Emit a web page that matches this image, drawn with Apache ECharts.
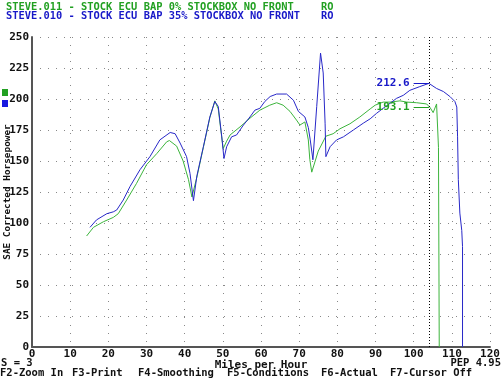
<!DOCTYPE html>
<html>
<head>
<meta charset="utf-8" />
<title>Dyno run</title>
<script src="https://cdn.jsdelivr.net/npm/echarts@6/dist/echarts.min.js"></script>
<style type="text/css">
html, body { margin: 0; padding: 0; background: #fff; }
#echarts { width: 504px; height: 378px; }
</style>
</head>
<body>
<div id="echarts"></div>
<script type="text/javascript">

// run 011 (green) - speed in mph / SAE corrected horsepower
var greenMph = [14.3, 16.1, 18.7, 21.3, 22.6, 24.8, 27.4, 30.0, 32.7, 35.3, 36.0, 37.9, 39.6, 41.0, 41.9,
    43.2, 44.9, 46.6, 47.9, 48.8, 49.6, 50.1, 51.0, 51.9, 54.5, 57.1, 59.7, 62.3, 64.1, 65.8, 67.6,
    69.3, 70.2, 71.5, 72.4, 72.8, 73.3, 75.0, 77.0, 78.9, 80.7, 83.3, 85.9, 88.6, 89.9, 92.0, 93.8,
    96.4, 98.2, 100.8, 103.4, 104.3, 105.1, 106.0, 106.5, 106.7];
var greenHp = [89.5, 96.5, 101, 104.5, 107.5, 118.5, 132, 147, 156, 165.5, 166.5, 162, 150, 135, 121,
    137, 161, 185, 198.5, 192, 172, 160, 166, 171, 177.5, 184.5, 191, 195, 197, 195, 190,
    183, 179, 181.5, 167, 151, 141, 158, 170, 172, 176, 180, 185.5, 192, 195, 197.5, 197.5,
    198.5, 197.5, 197, 196, 193.1, 189, 196, 161, 0];

// run 010 (blue)
var blueMph = [15.2, 16.9, 19.6, 21.3, 22.2, 23.9, 25.7, 28.3, 30.9, 33.5, 36.2, 37.5, 38.8, 40.5, 41.4,
    42.3, 43.2, 44.9, 46.6, 47.9, 48.8, 49.7, 50.3, 51.0, 52.3, 53.6, 55.4, 57.1, 58.4, 59.7, 61.0,
    62.4, 64.1, 66.7, 68.5, 69.8, 71.5, 72.4, 72.9, 73.6, 74.6, 75.6, 76.3, 76.8, 77.0, 78.1, 79.8,
    81.6, 84.2, 86.8, 88.6, 90.3, 92.0, 93.8, 95.5, 97.3, 99.0, 101.6, 104.0, 106.0, 107.8, 109.5,
    110.8, 111.3, 111.5, 111.7, 112.1, 112.6, 112.8, 112.8];
var blueHp = [96.5, 102.5, 107.5, 109, 110.5, 118.5, 129.5, 143, 153.5, 167, 173, 172, 164.5, 153.5, 140,
    118, 138, 161.5, 185.5, 198, 194, 170, 152, 161.5, 169.5, 171, 179, 185.5, 191, 192.5, 198,
    202, 204, 204, 199, 190, 185.5, 177, 167, 151, 194, 237, 221, 180, 153.5, 161.5, 167,
    169.5, 175, 180.5, 184, 188.5, 192.5, 196.5, 200.5, 203, 207, 210, 212.6, 208.5, 206, 202,
    198, 193.5, 170, 135, 108, 94, 81, 0];

var cursorMph = 104;
var readouts = [193.1, 212.6];
var xTicks = [0, 120, 10];
var yTicks = [0, 250, 25];

var GREEN = '#3cb43c', GREEN_TXT = '#22a022';
var BLUE = '#2828c8', BLUE_TXT = '#1818c8';
var FONT = '"DejaVu Sans Mono", monospace';

function pairs(xs, ys) {
    var out = [];
    for (var i = 0; i < xs.length; i++) out.push([xs[i], ys[i]]);
    return out;
}

function readout(value, color) {
    return {
        silent: true,
        symbol: ['none', 'none'],
        lineStyle: { color: color, type: 'solid', width: 1 },
        label: {
            show: true, position: 'start', formatter: String(value), distance: 4,
            color: color, fontFamily: FONT, fontWeight: 'bold', fontSize: 11
        },
        data: [[{ coord: [cursorMph - 4, value] }, { coord: [cursorMph, value] }]]
    };
}

var myChart = echarts.init(document.getElementById('echarts'));

var gridLine = { show: true, lineStyle: { color: '#888', type: [1, 7], width: 1 } };
var axisText = { color: '#111', fontFamily: FONT, fontWeight: 'bold', fontSize: 11 };

var option = {
    animation: false,
    backgroundColor: '#fff',
    grid: { left: 32, right: 14, top: 37, bottom: 31, containLabel: false, outerBoundsMode: 'none' },
    xAxis: {
        type: 'value', min: xTicks[0], max: xTicks[1], interval: xTicks[2],
        name: 'Miles per Hour', nameLocation: 'middle', nameGap: 13, nameMoveOverlap: false,
        nameTextStyle: axisText,
        axisLine: { lineStyle: { color: '#555', width: 2 } },
        axisTick: { show: false },
        axisLabel: Object.assign({ margin: 2 }, axisText),
        splitLine: gridLine
    },
    yAxis: {
        type: 'value', min: yTicks[0], max: yTicks[1], interval: yTicks[2],
        name: 'SAE Corrected Horsepower', nameLocation: 'middle', nameGap: 20, nameRotate: 90,
        nameMoveOverlap: false,
        nameTextStyle: Object.assign({}, axisText, { fontSize: 9.4 }),
        axisLine: { show: true, lineStyle: { color: '#555', width: 2 } },
        axisTick: { show: false },
        axisLabel: Object.assign({ margin: 3 }, axisText),
        splitLine: gridLine
    },
    series: [{
        name: 'STEVE.011', type: 'line', showSymbol: false, smooth: false,
        lineStyle: { color: GREEN, width: 1 },
        data: pairs(greenMph, greenHp),
        markLine: readout(readouts[0], GREEN_TXT)
    }, {
        name: 'STEVE.010', type: 'line', showSymbol: false, smooth: false,
        lineStyle: { color: BLUE, width: 1 },
        data: pairs(blueMph, blueHp),
        markLine: readout(readouts[1], BLUE_TXT)
    }, {
        name: 'cursor', type: 'line', data: [],
        markLine: {
            silent: true, symbol: ['none', 'none'], label: { show: false },
            lineStyle: { color: '#000', type: [1, 2], width: 1 },
            data: [{ xAxis: cursorMph }]
        }
    }],
    graphic: [
        { type: 'text', left: 6, top: 2, style: { text: 'STEVE.011 - STOCK ECU BAP 0% STOCKBOX NO FRONT', fill: GREEN_TXT, font: 'bold 10.4px ' + FONT } },
        { type: 'text', left: 321, top: 2, style: { text: 'RO', fill: GREEN_TXT, font: 'bold 10.4px ' + FONT } },
        { type: 'text', left: 6, top: 11, style: { text: 'STEVE.010 - STOCK ECU BAP 35% STOCKBOX NO FRONT', fill: BLUE_TXT, font: 'bold 10.4px ' + FONT } },
        { type: 'text', left: 321, top: 11, style: { text: 'RO', fill: BLUE_TXT, font: 'bold 10.4px ' + FONT } },
        { type: 'rect', left: 2, top: 89, shape: { width: 6, height: 7 }, style: { fill: '#22a022' } },
        { type: 'rect', left: 2, top: 100, shape: { width: 6, height: 7 }, style: { fill: '#1818e0' } },
        { type: 'text', left: 1, top: 358, style: { text: 'S = 3', fill: '#111', font: 'bold 10.5px ' + FONT } },
        { type: 'text', right: 3, top: 358, style: { text: 'PEP 4.95', fill: '#111', font: 'bold 10.5px ' + FONT } },
        { type: 'text', left: 0, top: 368, style: { text: 'F2-Zoom In', fill: '#111', font: 'bold 10.5px ' + FONT } },
        { type: 'text', left: 72, top: 368, style: { text: 'F3-Print', fill: '#111', font: 'bold 10.5px ' + FONT } },
        { type: 'text', left: 138, top: 368, style: { text: 'F4-Smoothing', fill: '#111', font: 'bold 10.5px ' + FONT } },
        { type: 'text', left: 227, top: 368, style: { text: 'F5-Conditions', fill: '#111', font: 'bold 10.5px ' + FONT } },
        { type: 'text', left: 321, top: 368, style: { text: 'F6-Actual', fill: '#111', font: 'bold 10.5px ' + FONT } },
        { type: 'text', left: 390, top: 368, style: { text: 'F7-Cursor Off', fill: '#111', font: 'bold 10.5px ' + FONT } }
    ]
};

myChart.setOption(option);

</script>
</body>
</html>
